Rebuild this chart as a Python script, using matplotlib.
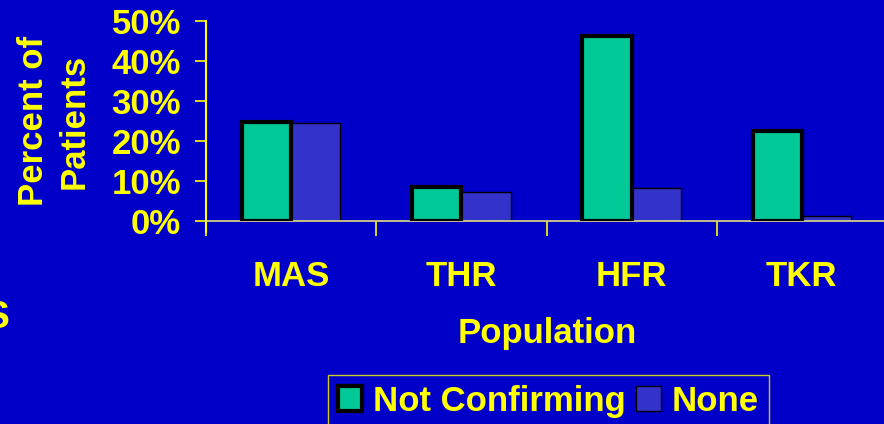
import matplotlib
matplotlib.use("Agg")
import matplotlib.pyplot as plt
import numpy as np

# data
populations = ["MAS", "THR", "HFR", "TKR"]
not_confirming = [24.8, 8.4, 46.3, 22.5]
none_vals = [24.6, 7.3, 8.3, 1.2]
yticks = [0, 10, 20, 30, 40, 50]

bg = "#0000C8"
yellow = "#FFFF00"
green = "#00C896"
blue = "#3333CC"
fs = 25

plt.rcParams['font.family'] = ['Liberation Sans', 'DejaVu Sans']
plt.rcParams['font.weight'] = 'bold'

fig = plt.figure(figsize=(8.84, 4.24), dpi=100, facecolor=bg)
ax = fig.add_axes([206/884, 1-221/424, 681/884, 200/424], facecolor=bg)

x = np.arange(len(populations))
w = 0.29
ax.bar(x - w/2, not_confirming, w, color=green, edgecolor="black", linewidth=3,
       label="Not Confirming", zorder=3)
ax.bar(x + w/2, none_vals, w, color=blue, edgecolor="black", linewidth=1,
       label="None", zorder=2)

ax.set_xlim(-0.5, len(populations) - 0.5)
ax.set_ylim(0, 50)

ax.set_yticks(yticks)
ax.set_yticklabels([f"{v}%" for v in yticks])
ax.tick_params(axis='y', colors=yellow, labelsize=fs, length=8, width=1.2, pad=10)
for t in ax.yaxis.get_ticklines():
    t.set_color("#C8C890")

# category boundaries as major ticks, names on minor ticks
ax.set_xticks(np.arange(len(populations) + 1) - 0.5)
ax.set_xticklabels([])
ax.set_xticks(x, minor=True)
ax.set_xticklabels(populations, minor=True)
ax.tick_params(axis='x', which='major', colors=yellow, length=11, width=1.2, direction='out')
ax.tick_params(axis='x', which='minor', colors=yellow, length=0, labelsize=fs, pad=28)

for s in ["top", "right"]:
    ax.spines[s].set_visible(False)
ax.spines["left"].set_color(yellow)
ax.spines["left"].set_linewidth(1.5)
ax.spines["left"].set_bounds(-2.7, 50)
ax.spines["bottom"].set_color("#E0E080")
ax.spines["bottom"].set_linewidth(1.2)

fig.text(54/884, 1-121/424, "Percent of\nPatients", rotation=90, ha="center", va="center",
         ma="center", color=yellow, fontsize=fs, fontweight="bold", linespacing=1.28)
fig.text(547/884, 1-333/424, "Population", ha="center", va="center",
         color=yellow, fontsize=fs, fontweight="bold")
# stray glyph cut off at left edge
fig.text(-16/884, 1-318/424, "S", ha="left", va="center", color=yellow,
         fontsize=28, fontweight="bold")

leg = fig.legend(loc="upper left", bbox_to_anchor=(328/884, 1-375/424), ncol=2,
                 fontsize=fs, frameon=True, facecolor=bg, edgecolor=yellow,
                 handlelength=0.7, handleheight=0.7, handletextpad=0.32,
                 columnspacing=0.3, borderpad=0.28, fancybox=False, borderaxespad=0)
leg.get_frame().set_linewidth(1)
for t in leg.get_texts():
    t.set_color(yellow)

fig.savefig("out.png", dpi=100, facecolor=bg)
